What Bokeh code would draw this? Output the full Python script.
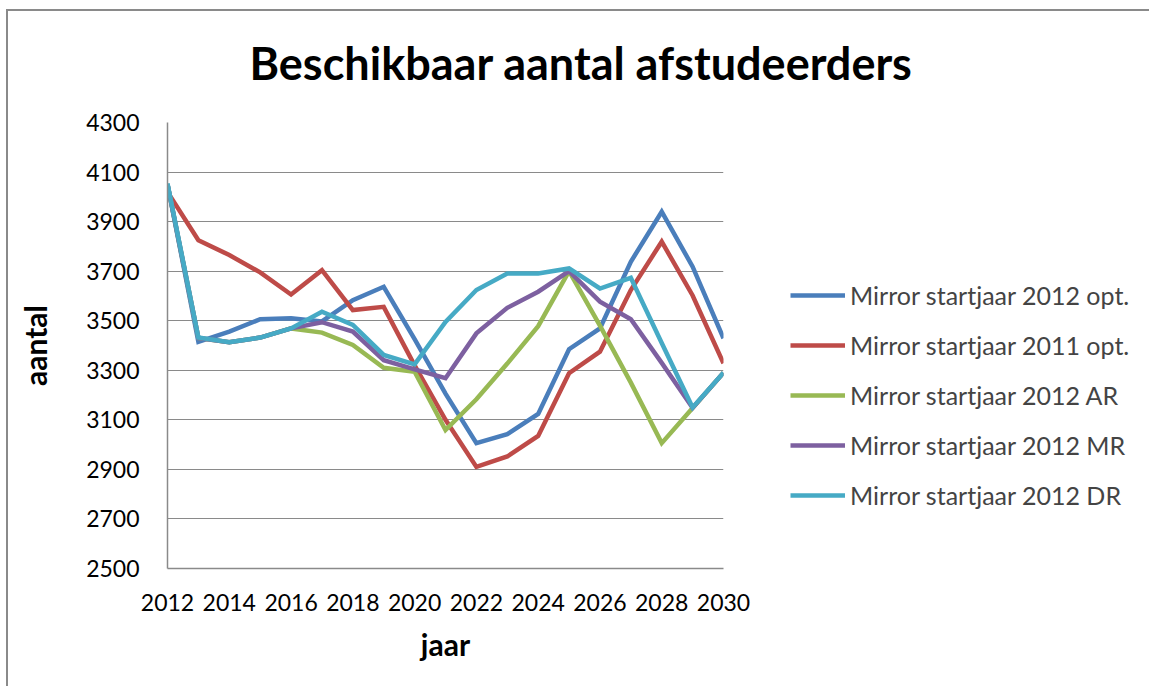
from bokeh.plotting import figure
from bokeh.models import FixedTicker, Legend, LegendItem, Title
from bokeh.embed import file_html
from bokeh.resources import INLINE

years = list(range(2012, 2031))
mirror_2012_opt = [4050, 3415, 3456, 3506, 3510, 3497, 3583, 3637, 3426, 3206,
                   3006, 3042, 3124, 3385, 3469, 3738, 3940, 3718, 3429]
mirror_2011_opt = [4020, 3825, 3765, 3695, 3606, 3704, 3543, 3556, 3320, 3100,
                   2910, 2952, 3035, 3288, 3375, 3624, 3819, 3602, 3328]
mirror_2012_ar = [4050, 3430, 3413, 3432, 3469, 3452, 3402, 3310, 3294, 3059,
                  3183, 3327, 3478, 3700, 3480, 3250, 3006, 3148, 3290]
mirror_2012_mr = [4050, 3430, 3413, 3432, 3469, 3494, 3456, 3341, 3304, 3268,
                  3449, 3552, 3617, 3700, 3577, 3506, 3330, 3148, 3290]
mirror_2012_dr = [4054, 3432, 3413, 3432, 3469, 3536, 3483, 3362, 3324, 3495,
                  3624, 3691, 3691, 3711, 3630, 3673, 3410, 3150, 3290]

series_names = ["Mirror startjaar 2012 opt.", "Mirror startjaar 2011 opt.",
                "Mirror startjaar 2012 AR", "Mirror startjaar 2012 MR",
                "Mirror startjaar 2012 DR"]
series_values = [mirror_2012_opt, mirror_2011_opt, mirror_2012_ar,
                 mirror_2012_mr, mirror_2012_dr]
colors = ["#4A7EBB", "#BE4B48", "#98B954", "#7D60A0", "#46AAC5"]

y_ticks = list(range(2500, 4301, 200))
x_ticks = list(range(2012, 2031, 2))

title_text = "Beschikbaar aantal afstudeerders"
x_label = "jaar"
y_label = "aantal"

FONT = "Lato"

p = figure(frame_width=556, frame_height=446,
           min_border_left=159, min_border_top=111,
           min_border_right=420, min_border_bottom=118,
           x_range=(2012, 2030), y_range=(2500, 4300),
           output_backend="svg", toolbar_location=None)
p.styles = {"border-left": "2px solid #8a8a8a", "border-top": "2px solid #8a8a8a",
            "margin-left": "6px", "margin-top": "9px"}

p.outline_line_color = None
p.xgrid.grid_line_color = None
p.ygrid.grid_line_color = "#8a8a8a"
p.ygrid.grid_line_width = 1.2
p.yaxis.ticker = FixedTicker(ticks=y_ticks)
p.xaxis.ticker = FixedTicker(ticks=x_ticks)

for ax in (p.xaxis, p.yaxis):
    ax.axis_line_color = "#8a8a8a"
    ax.axis_line_width = 1.5
    ax.major_tick_out = 0
    ax.major_tick_in = 0
    ax.minor_tick_out = 0
    ax.minor_tick_in = 0
    ax.major_label_text_font = FONT
    ax.major_label_text_font_size = "23px"
    ax.major_label_text_color = "black"
    ax.axis_label_text_font = FONT
    ax.axis_label_text_font_size = "30px"
    ax.axis_label_text_font_style = "bold"
    ax.axis_label_text_color = "black"

p.yaxis.major_label_standoff = 28
p.xaxis.major_label_standoff = 25
p.xaxis.axis_label = x_label
p.yaxis.axis_label = y_label
p.xaxis.axis_label_standoff = 12
p.yaxis.axis_label_standoff = 30

renderers = []
for vals, col in zip(series_values, colors):
    r = p.line(years, vals, line_color=col, line_width=4.5, line_join="miter")
    renderers.append(r)

legend = Legend(items=[LegendItem(label=n, renderers=[r]) for n, r in zip(series_names, renderers)],
                location=(67, 58), orientation="vertical",
                glyph_width=55, glyph_height=20, label_height=20, spacing=20,
                label_standoff=5, padding=0, margin=0,
                border_line_alpha=0, background_fill_alpha=0,
                label_text_font=FONT, label_text_font_size="25px")
p.add_layout(legend, "right")

# spacer between frame and title (first added = closest to the frame)
p.add_layout(Title(text=" ", text_font_size="10px", standoff=18), "above")
p.add_layout(Title(text=title_text, align="left", offset=82, standoff=0,
                   vertical_align="top",
                   text_font=FONT, text_font_size="45px", text_font_style="bold",
                   text_color="black"), "above")

open("out.html", "w").write(file_html(p, INLINE))
